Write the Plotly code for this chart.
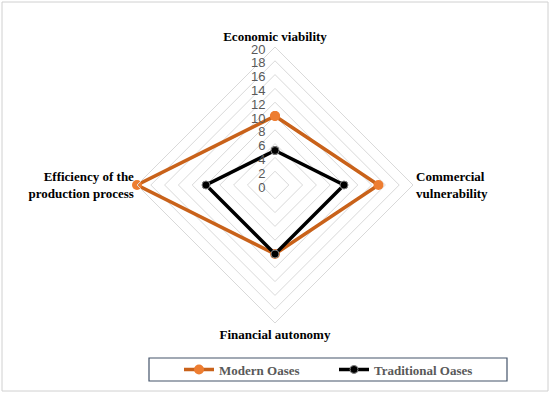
import plotly.graph_objects as go

categories = ["Economic viability", "Commercial<br>vulnerability", "Financial autonomy", "Efficiency of the<br>production process"]
modern = [10, 15, 10, 20]
traditional = [5, 10, 10, 10]
tick_vals = list(range(0, 21, 2))

def closed(v):
    return v + v[:1]

SERIF = "Liberation Serif"

fig = go.Figure()
fig.add_trace(go.Scatterpolar(
    r=closed(modern), theta=closed(categories), name="Modern Oases",
    mode="lines+markers",
    line=dict(color="#C9621A", width=3.5),
    marker=dict(color="#ED7D31", size=10, line=dict(color="#ED7D31", width=0)),
))
fig.add_trace(go.Scatterpolar(
    r=closed(traditional), theta=closed(categories), name="Traditional Oases",
    mode="lines+markers",
    line=dict(color="#000000", width=3.5),
    marker=dict(color="#000000", size=8, line=dict(color="#808080", width=1)),
))

cx, cy, R = 275, 185, 138
W, H = 550, 393
fig.update_layout(
    width=W, height=H,
    margin=dict(l=0, r=0, t=0, b=0, autoexpand=False),
    paper_bgcolor="white",
    plot_bgcolor="white",
    polar=dict(
        domain=dict(x=[(cx - R) / W, (cx + R) / W], y=[(H - cy - R) / H, (H - cy + R) / H]),
        gridshape="linear",
        bgcolor="white",
        radialaxis=dict(
            range=[0, 20], tickvals=tick_vals, angle=90,
            showline=False, ticks="", gridcolor="#D9D9D9", gridwidth=1,
            tickfont=dict(family="Liberation Sans", size=13, color="#595959"),
            side="counterclockwise",
        ),
        angularaxis=dict(
            rotation=90, direction="clockwise", showgrid=False,
            showline=True, linecolor="#D9D9D9", linewidth=1, ticks="",
            tickfont=dict(family=SERIF, size=13, color="#000000", weight="bold"),
        ),
    ),
    showlegend=True,
    legend=dict(
        orientation="h", x=(149 + 507) / 2 / W + 6 / W, xanchor="center",
        y=(H - 369.5) / H, yanchor="middle",
        font=dict(family=SERIF, size=13, color="#595959", weight="bold"),
        itemwidth=30, entrywidth=110, bgcolor="rgba(0,0,0,0)",
    ),
    shapes=[
        dict(type="rect", xref="paper", yref="paper",
             x0=149 / W, x1=507 / W, y0=(H - 381) / H, y1=(H - 358) / H,
             line=dict(color="#44546A", width=1.2)),
        dict(type="rect", xref="paper", yref="paper",
             x0=2 / W, x1=548 / W, y0=2 / H, y1=391 / H,
             line=dict(color="#D0D0D0", width=1)),
    ],
)

fig.write_html("out.html", config={"displayModeBar": False},
               post_script="document.body.style.margin='0';document.body.style.overflow='hidden';")
